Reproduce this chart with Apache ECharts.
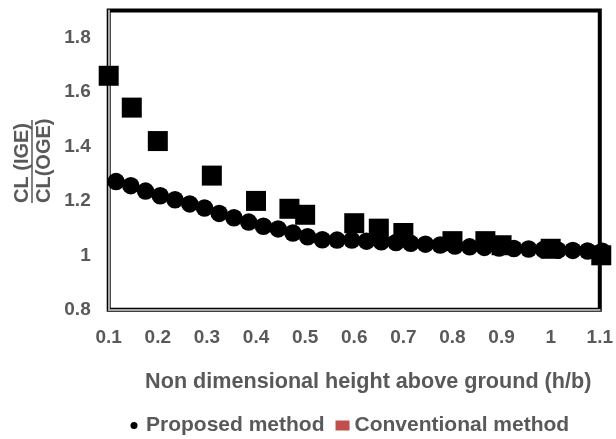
<!DOCTYPE html>
<html>
<head>
<meta charset="utf-8">
<script src="https://cdn.jsdelivr.net/npm/echarts@6/dist/echarts.min.js"></script>
<style>html,body{margin:0;padding:0;background:#fff;}#c{width:616px;height:439px;}</style>
</head>
<body>
<div id="c"></div>
<script>
// Proposed method (circles)
const propX = [0.115,0.145,0.175,0.205,0.235,0.265,0.295,0.325,0.355,0.385,0.415,0.445,0.475,0.505,0.535,0.565,0.595,0.625,0.655,0.685,0.715,0.745,0.775,0.805,0.835,0.865,0.895,0.925,0.955,0.985,1.015,1.045,1.075,1.105];
const propY = [1.271,1.256,1.236,1.219,1.204,1.189,1.174,1.154,1.138,1.122,1.107,1.097,1.082,1.068,1.057,1.056,1.056,1.052,1.050,1.047,1.044,1.041,1.038,1.034,1.031,1.029,1.027,1.025,1.023,1.021,1.019,1.018,1.016,1.015];
// Conventional method (squares)
const convX = [0.1,0.147,0.2,0.31,0.4,0.468,0.5,0.6,0.65,0.7,0.8,0.867,0.9,1.0,1.103];
const convY = [1.66,1.543,1.42,1.293,1.2,1.171,1.149,1.118,1.098,1.082,1.052,1.052,1.037,1.024,1.0];
const seriesNames = ['Proposed method','Conventional method'];
const xTitle = 'Non dimensional height above ground (h/b)';
const yTitleTop = 'CL (IGE)';
const yTitleBottom = 'CL(OGE)';

const FONT = "'Liberation Sans', Arial, sans-serif";
const GREY = '#595959';
const chart = echarts.init(document.getElementById('c'), null, {renderer:'canvas'});
chart.setOption({
  animation:false,
  backgroundColor:'#fff',
  grid:{left:108.7, right:16, top:10.5, bottom:129.3, show:true, borderColor:'#000', borderWidth:4, backgroundColor:'transparent'},
  xAxis:{type:'value', min:0.1, max:1.1, interval:0.1,
    axisLine:{show:true, onZero:false, lineStyle:{color:'#a6a6a6', width:2}},
    axisTick:{show:false}, splitLine:{show:false},
    axisLabel:{color:GREY, fontFamily:FONT, fontWeight:'bold', fontSize:19, margin:19},
    name:xTitle, nameLocation:'middle', nameGap:61,
    nameTextStyle:{color:GREY, fontFamily:FONT, fontWeight:'bold', fontSize:21.6, padding:[0,0,0,28]}
  },
  yAxis:{type:'value', min:0.8, max:1.9, interval:0.2,
    axisLine:{show:true, onZero:false, lineStyle:{color:'#a6a6a6', width:2}},
    axisTick:{show:false}, splitLine:{show:false},
    axisLabel:{color:GREY, fontFamily:FONT, fontWeight:'bold', fontSize:19, margin:18, showMaxLabel:false}
  },
  legend:{left:124, top:410, itemWidth:14, itemHeight:10, itemGap:11,
    textStyle:{color:GREY, fontFamily:FONT, fontWeight:'bold', fontSize:21},
    data:[{name:seriesNames[0], icon:'path://M0,0M10,10M5,1.5A3.5,3.5,0,1,1,5,8.5A3.5,3.5,0,1,1,5,1.5Z', itemStyle:{color:'#000'}},
          {name:seriesNames[1], icon:'rect', itemStyle:{color:'#c0504d'}}]
  },
  graphic:[
    {type:'text', x:22, y:203, rotation:Math.PI/2, style:{text:yTitleTop, fill:GREY, font:"bold 20px 'Liberation Sans', Arial, sans-serif", align:'left', verticalAlign:'middle'}},
    {type:'line', shape:{x1:32, y1:203, x2:32, y2:120}, style:{stroke:GREY, lineWidth:1.5}},
    {type:'text', x:44, y:203, rotation:Math.PI/2, style:{text:yTitleBottom, fill:GREY, font:"bold 20px 'Liberation Sans', Arial, sans-serif", align:'left', verticalAlign:'middle'}}
  ],
  series:[
    {name:seriesNames[0], type:'scatter', symbol:'circle', symbolSize:17.5, clip:false,
      itemStyle:{color:'#000', opacity:1}, data:propX.map((x,i)=>[x,propY[i]])},
    {name:seriesNames[1], type:'scatter', symbol:'rect', symbolSize:20, clip:false,
      itemStyle:{color:'#000', opacity:1}, data:convX.map((x,i)=>[x,convY[i]])}
  ]
});
</script>
</body>
</html>
